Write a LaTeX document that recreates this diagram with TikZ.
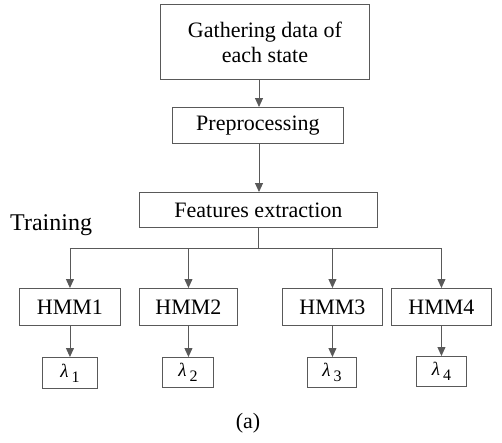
\documentclass[tikz,border=0pt]{standalone}
\usepackage{fontspec}
\setmainfont{Liberation Serif}
\usetikzlibrary{arrows.meta}
\definecolor{ln}{HTML}{595959}
\tikzset{
  box/.style={draw=ln, line width=0.9pt, inner sep=0pt, anchor=north west, font=\fontsize{22}{25}\selectfont, align=center},
  lbox/.style={draw=ln, line width=0.9pt, inner sep=0pt, anchor=north west, font=\fontsize{19}{19}\selectfont},
  conn/.style={draw=ln, line width=0.9pt},
  arr/.style={conn, -{Triangle[width=8pt,length=9pt]}}
}
\newcommand{\lam}[1]{\itshape λ\upshape\kern3pt\raisebox{-5pt}{\fontsize{16}{16}\selectfont #1}}
\begin{document}
\begin{tikzpicture}[x=1pt,y=-1pt]
\useasboundingbox (0,0) rectangle (502,442);
\node[box, minimum width=209pt, minimum height=75pt] (g) at (160,4) {Gathering data of\\each state};
\node[box, minimum width=171pt, minimum height=36pt] (p) at (172,107) {Preprocessing};
\node[box, minimum width=238pt, minimum height=35pt] (f) at (139,192) {Features extraction};
\node[font=\fontsize{24}{25}\selectfont, anchor=west, inner sep=0pt] (t) at (10,225) {Training};
\node[box, minimum width=101pt, minimum height=37pt] (h1) at (19,288) {HMM1};
\node[box, minimum width=98pt, minimum height=37pt] (h2) at (139,288) {HMM2};
\node[box, minimum width=100pt, minimum height=37pt] (h3) at (282,288) {HMM3};
\node[box, minimum width=100pt, minimum height=37pt] (h4) at (391,288) {HMM4};
\node[lbox, minimum width=55pt, minimum height=31pt] (l1) at (42,357) {\lam{1}};
\node[lbox, minimum width=51pt, minimum height=30pt] (l2) at (162,357) {\lam{2}};
\node[lbox, minimum width=49pt, minimum height=30pt] (l3) at (307,357) {\lam{3}};
\node[lbox, minimum width=50pt, minimum height=30pt] (l4) at (416,356) {\lam{4}};
\node[font=\fontsize{22}{25}\selectfont] (a) at (248,423) {(a)};
\coordinate (j) at (258,248);
\draw[arr] (g.south -| 259,0) -- (p.north -| 259,0);
\draw[arr] (p.south -| 259,0) -- (f.north -| 259,0);
\draw[conn] (f.south -| j) -- (j);
\draw[conn] (j -| h1) -- (j -| h4);
\draw[arr] (j -| h1) -- (h1.north);
\draw[arr] (j -| h2) -- (h2.north);
\draw[arr] (j -| h3) -- (h3.north);
\draw[arr] (j -| h4) -- (h4.north);
\draw[arr] (h1.south) -- (h1.south |- l1.north);
\draw[arr] (h2.south) -- (h2.south |- l2.north);
\draw[arr] (h3.south) -- (h3.south |- l3.north);
\draw[arr] (h4.south) -- (h4.south |- l4.north);
\end{tikzpicture}
\end{document}
